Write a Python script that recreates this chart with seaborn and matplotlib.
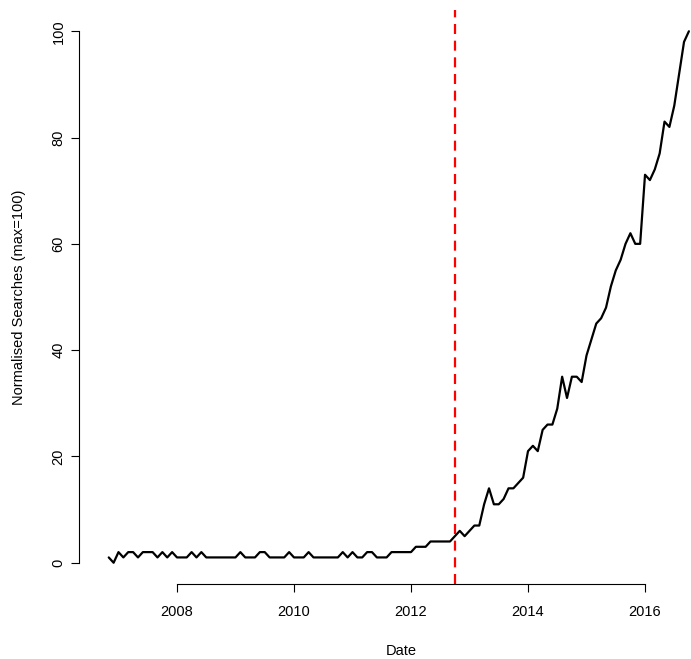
import pandas as pd
import numpy as np
import matplotlib
matplotlib.use("Agg")
import matplotlib.pyplot as plt
import seaborn as sns

# monthly search interest (Nov 2006 - Oct 2016), normalised so max = 100
months = pd.date_range("2006-11-01", periods=120, freq="MS")
searches = [
    1, 0, 2, 1, 2, 2, 1, 2, 2, 2,
    1, 2, 1, 2, 1, 1, 1, 2, 1, 2,
    1, 1, 1, 1, 1, 1, 1, 2, 1, 1,
    1, 2, 2, 1, 1, 1, 1, 2, 1, 1,
    1, 2, 1, 1, 1, 1, 1, 1, 2, 1,
    2, 1, 1, 2, 2, 1, 1, 1, 2, 2,
    2, 2, 2, 3, 3, 3, 4, 4, 4, 4,
    4, 5, 6, 5, 6, 7, 7, 11, 14, 11,
    11, 12, 14, 14, 15, 16, 21, 22, 21, 25,
    26, 26, 29, 35, 31, 35, 35, 34, 39, 42,
    45, 46, 48, 52, 55, 57, 60, 62, 60, 60,
    73, 72, 74, 77, 83, 82, 86, 92, 98, 100,
]
event_date = pd.Timestamp("2012-10-01")
x_ticks = [2008, 2010, 2012, 2014, 2016]
y_ticks = [0, 20, 40, 60, 80, 100]


def dec_year(d):
    return d.year + (d.month - 1) / 12 + (d.day - 1) / 365.25


df = pd.DataFrame({"Date": [dec_year(d) for d in months], "Searches": searches})

sns.set_style("ticks")
plt.rcParams["font.family"] = ["Liberation Sans", "DejaVu Sans"]
plt.rcParams["text.color"] = "black"
plt.rcParams["axes.labelcolor"] = "black"
plt.rcParams["xtick.color"] = "black"
plt.rcParams["ytick.color"] = "black"

fig = plt.figure(figsize=(6.91, 6.59), dpi=100)
# plot region runs off the right edge, like the cropped original
ax = fig.add_axes([79 / 691, 75 / 659, (724 - 79) / 691, (584 - 10) / 659])

sns.lineplot(data=df, x="Date", y="Searches", color="black", lw=1.6, ax=ax)
ax.axvline(dec_year(event_date), color="red", lw=1.6, ls=(0, (4.5, 3)))

ax.set_xlim(2006.325, 2017.35)
ax.set_ylim(-4, 104)

fs = 10.5
ax.set_xticks(x_ticks)
ax.set_xticklabels([str(t) for t in x_ticks], fontsize=fs)
ax.set_yticks(y_ticks)
ax.set_yticklabels([str(t) for t in y_ticks], fontsize=fs, rotation=90, va="center")
ax.tick_params(direction="out", length=5.8, width=0.8, color="black")
ax.tick_params(axis="x", pad=9)
ax.tick_params(axis="y", pad=4)

for s in ["top", "right"]:
    ax.spines[s].set_visible(False)
ax.spines["bottom"].set_bounds(2008, 2016)
ax.spines["left"].set_bounds(0, 100)
for s in ["bottom", "left"]:
    ax.spines[s].set_linewidth(0.8)
    ax.spines[s].set_color("black")

ax.set_xlabel("Date", fontsize=fs, labelpad=18)
ax.set_ylabel("Normalised Searches (max=100)", fontsize=fs, labelpad=18)

fig.savefig("out.png", dpi=100)
